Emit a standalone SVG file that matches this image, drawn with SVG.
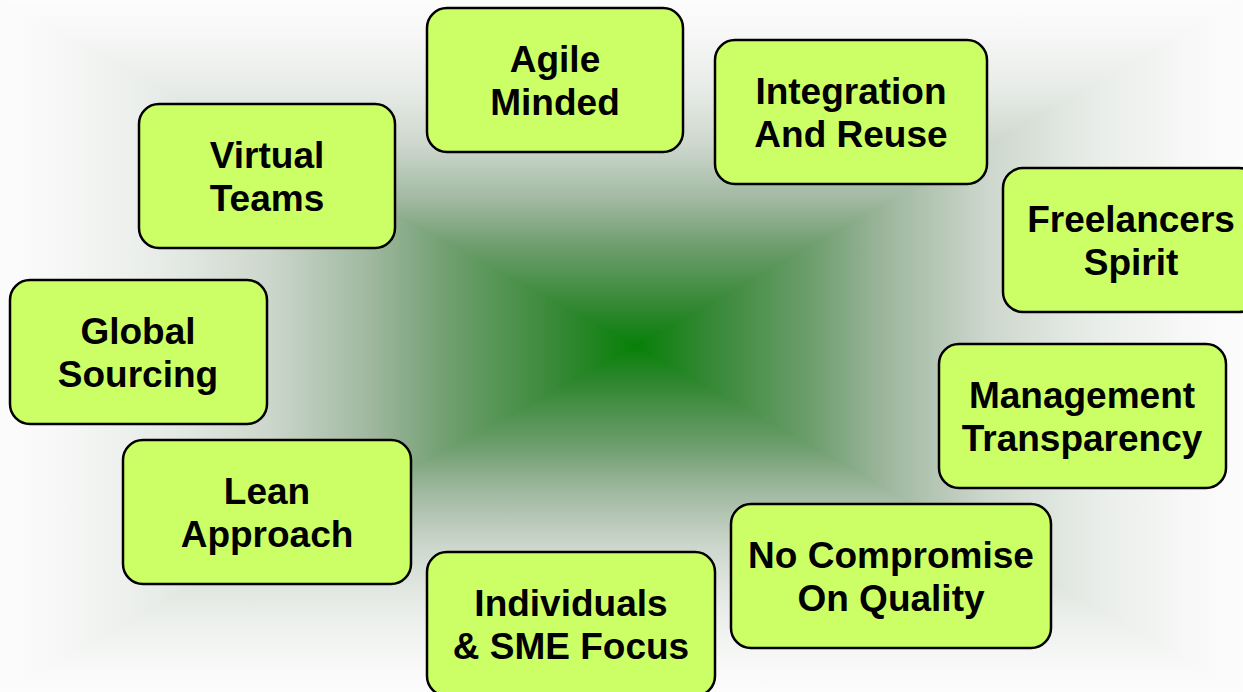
<svg xmlns="http://www.w3.org/2000/svg" width="1243" height="692" viewBox="0 0 1243 692">
<style>
.box{fill:#CCFF66;stroke:#000;stroke-width:2.5}
.t{font-family:"Liberation Sans",Arial,sans-serif;font-weight:bold;font-size:37px;fill:#000;text-anchor:middle}
</style>
<defs>
<linearGradient id="gv" gradientUnits="userSpaceOnUse" x1="0" y1="0" x2="0" y2="692">
<stop offset="0" stop-color="#fcfcfc"/>
<stop offset="0.05" stop-color="#f6f7f6"/>
<stop offset="0.125" stop-color="#e8ece8"/>
<stop offset="0.21" stop-color="#cdd7cd"/>
<stop offset="0.29" stop-color="#a0b8a0"/>
<stop offset="0.355" stop-color="#6e9e6e"/>
<stop offset="0.44" stop-color="#358835"/>
<stop offset="0.5" stop-color="#078007"/>
<stop offset="0.56" stop-color="#358835"/>
<stop offset="0.645" stop-color="#6e9e6e"/>
<stop offset="0.71" stop-color="#a0b8a0"/>
<stop offset="0.79" stop-color="#cdd7cd"/>
<stop offset="0.875" stop-color="#e8ece8"/>
<stop offset="0.95" stop-color="#f6f7f6"/>
<stop offset="1" stop-color="#fcfcfc"/>
</linearGradient>
<linearGradient id="gl" gradientUnits="userSpaceOnUse" x1="636" y1="0" x2="0" y2="0">
<stop offset="0" stop-color="#078007"/>
<stop offset="0.12" stop-color="#358835"/>
<stop offset="0.29" stop-color="#6e9e6e"/>
<stop offset="0.42" stop-color="#a0b8a0"/>
<stop offset="0.58" stop-color="#cdd7cd"/>
<stop offset="0.75" stop-color="#e8ece8"/>
<stop offset="0.9" stop-color="#f6f7f6"/>
<stop offset="1" stop-color="#fcfcfc"/>
</linearGradient>
<linearGradient id="gr" gradientUnits="userSpaceOnUse" x1="636" y1="0" x2="1243" y2="0">
<stop offset="0" stop-color="#078007"/>
<stop offset="0.12" stop-color="#358835"/>
<stop offset="0.29" stop-color="#6e9e6e"/>
<stop offset="0.42" stop-color="#a0b8a0"/>
<stop offset="0.58" stop-color="#cdd7cd"/>
<stop offset="0.75" stop-color="#e8ece8"/>
<stop offset="0.9" stop-color="#f6f7f6"/>
<stop offset="1" stop-color="#fcfcfc"/>
</linearGradient>
</defs>
<g id="background">
<rect x="0" y="0" width="1243" height="692" fill="url(#gv)"/>
<polygon points="0,0 636,345 0,692" fill="url(#gl)"/>
<polygon points="1243,0 636,345 1243,692" fill="url(#gr)"/>
</g>
<g id="connectors"></g>
<g id="agile"><rect class="box" x="427" y="8" width="256" height="144" rx="20"/><text class="t" x="555" y="72">Agile</text><text class="t" x="555" y="115">Minded</text></g>
<g id="integration"><rect class="box" x="715" y="40" width="272" height="144" rx="20"/><text class="t" x="851" y="104">Integration</text><text class="t" x="851" y="147">And Reuse</text></g>
<g id="virtual"><rect class="box" x="139" y="104" width="256" height="144" rx="20"/><text class="t" x="267" y="168">Virtual</text><text class="t" x="267" y="211">Teams</text></g>
<g id="freelancers"><rect class="box" x="1003" y="168" width="256" height="144" rx="20"/><text class="t" x="1131" y="232">Freelancers</text><text class="t" x="1131" y="275">Spirit</text></g>
<g id="global"><rect class="box" x="10" y="280" width="257" height="144" rx="20"/><text class="t" x="138" y="344">Global</text><text class="t" x="138" y="387">Sourcing</text></g>
<g id="management"><rect class="box" x="939" y="344" width="287" height="144" rx="20"/><text class="t" x="1082" y="408">Management</text><text class="t" x="1082" y="451">Transparency</text></g>
<g id="lean"><rect class="box" x="123" y="440" width="288" height="144" rx="20"/><text class="t" x="267" y="504">Lean</text><text class="t" x="267" y="547">Approach</text></g>
<g id="quality"><rect class="box" x="731" y="504" width="320" height="144" rx="20"/><text class="t" x="891" y="568">No Compromise</text><text class="t" x="891" y="611">On Quality</text></g>
<g id="individuals"><rect class="box" x="427" y="552" width="288" height="144" rx="20"/><text class="t" x="571" y="616">Individuals</text><text class="t" x="571" y="659">&amp; SME Focus</text></g>
</svg>
